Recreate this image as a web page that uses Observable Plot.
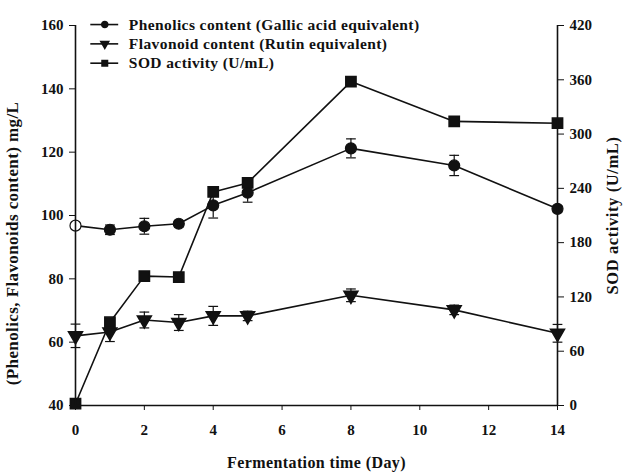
<!DOCTYPE html>
<html>
<head>
<meta charset="utf-8">
<script src="https://cdn.jsdelivr.net/npm/d3@7"></script>
<script src="https://cdn.jsdelivr.net/npm/@observablehq/plot@0.6"></script>
<style>
  html, body { margin: 0; padding: 0; background: #fff; }
  #chart svg { font-family: "Liberation Serif", "Times New Roman", serif; font-weight: bold; }
  #chart svg [aria-label="x-axis label"] text { letter-spacing: 0.4px; }
  #chart svg [aria-label="y-axis label"] text { letter-spacing: 0.6px; }
  #chart svg .legend-text text, #chart svg .ylabel text { letter-spacing: 0.4px; }
</style>
</head>
<body>
<div id="chart"></div>
<script>
// ---- data ----
const days = [0, 1, 2, 3, 4, 5, 8, 11, 14];
const phenolics = [96.8, 95.5, 96.6, 97.4, 103.2, 107.2, 121.2, 115.8, 102.1];
const phenolicsErr = [1.0, 1.5, 2.5, 1.0, 4.0, 3.0, 3.0, 3.2, 1.0];
const flavonoid = [62.0, 63.2, 67.0, 66.2, 68.3, 68.3, 74.8, 70.2, 62.8];
const flavonoidErr = [3.7, 3.0, 2.5, 2.5, 3.0, 1.5, 2.0, 1.5, 2.8];
const sod = [2, 92, 143, 142, 236, 246, 358, 314, 312];
const sodErr = [0, 2, 2, 3, 2, 3, 3, 2, 2];
const xTicks = [0, 2, 4, 6, 8, 10, 12, 14];
const leftTicks = [40, 60, 80, 100, 120, 140, 160];
const rightTicks = [0, 60, 120, 180, 240, 300, 360, 420];
const seriesNames = ["Phenolics content (Gallic acid equivalent)", "Flavonoid content (Rutin equivalent)", "SOD activity (U/mL)"];
const leftTitle = "(Phenolics, Flavonoids content) mg/L";

// map right-axis (SOD) values onto the left scale
const L0 = 40, L1 = 160, R0 = 0, R1 = 420;
const toLeft = v => L0 + (v - R0) * (L1 - L0) / (R1 - R0);

const rows = [];
days.forEach((d, i) => {
  rows.push({s: 0, x: d, y: phenolics[i], lo: phenolics[i] - phenolicsErr[i], hi: phenolics[i] + phenolicsErr[i], open: i === 0});
  rows.push({s: 1, x: d, y: flavonoid[i], lo: flavonoid[i] - flavonoidErr[i], hi: flavonoid[i] + flavonoidErr[i], open: false});
  rows.push({s: 2, x: d, y: toLeft(sod[i]), lo: toLeft(sod[i] - sodErr[i]), hi: toLeft(sod[i] + sodErr[i]), open: false});
});

const cap = { draw(ctx, size) { const r = Math.sqrt(size) / 2; ctx.moveTo(-r, 0); ctx.lineTo(r, 0); } };
const capRows = rows.flatMap(r => [{x: r.x, y: r.lo}, {x: r.x, y: r.hi}]);

const chart = Plot.plot({
  width: 627,
  height: 474,
  marginLeft: 75,
  marginRight: 70,
  marginTop: 25,
  marginBottom: 69,
  style: {fontFamily: "Liberation Serif, Times New Roman, serif", fontSize: "15px", fontWeight: "bold", color: "#111"},
  x: {domain: [0, 14]},
  y: {domain: [L0, L1]},
  marks: [
    // error bars
    Plot.ruleX(rows, {x: "x", y1: "lo", y2: "hi", stroke: "#111", strokeWidth: 1.2}),
    Plot.dot(capRows, {x: "x", y: "y", symbol: cap, r: 5.5, stroke: "#111", strokeWidth: 1.2}),
    // lines
    Plot.line(rows, {x: "x", y: "y", z: "s", stroke: "#111", strokeWidth: 1.6}),
    // markers
    Plot.dot(rows.filter(r => r.s === 0), {x: "x", y: "y", r: 5.5, symbol: "circle", fill: d => d.open ? "#fff" : "#111", stroke: "#111", strokeWidth: 1.2}),
    Plot.dot(rows.filter(r => r.s === 1), {x: "x", y: "y", r: 5.2, symbol: "triangle", rotate: 180, fill: "#111", stroke: "#111"}),
    Plot.dot(rows.filter(r => r.s === 2), {x: "x", y: "y", r: 5.8, symbol: "square", fill: "#111", stroke: "#111"}),
    // axes
    Plot.ruleY([L0], {stroke: "#111", strokeWidth: 1.6}),
    Plot.ruleX([0], {stroke: "#111", strokeWidth: 1.6}),
    Plot.ruleX([14], {stroke: "#111", strokeWidth: 1.6}),
    Plot.axisX({ticks: xTicks, tickSize: 5, tickPadding: 14, label: null, fontSize: 15}),
    Plot.axisX({ticks: [], label: "Fermentation time (Day)", labelAnchor: "center", labelOffset: 62, labelArrow: "none", fontSize: 16}),
    Plot.axisY({anchor: "left", ticks: leftTicks, tickSize: 6, tickPadding: 6, label: null, fontSize: 15}),
    Plot.text([leftTitle], {frameAnchor: "left", textAnchor: "middle", text: d => d, rotate: -90, dx: -63, dy: 28, fontSize: 17, fontWeight: "bold", fill: "#111", clip: false, className: "ylabel"}),
    Plot.axisY({anchor: "right", ticks: rightTicks.map(toLeft), tickFormat: (d, i) => String(rightTicks[i]), tickSize: 6, tickPadding: 6, label: null, fontSize: 15}),
    Plot.axisY({anchor: "right", ticks: [], label: "SOD activity (U/mL)", labelAnchor: "center", labelOffset: 60, labelArrow: "none", labelRotate: -90, fontSize: 16.5}),
    // legend
    Plot.link(seriesNames, {x1: 0.43, x2: 1.24, y1: (d, i) => 160.3 - i * 6.1, y2: (d, i) => 160.3 - i * 6.1, stroke: "#111", strokeWidth: 1.6, clip: false}),
    Plot.dot(seriesNames, {x: 0.85, y: (d, i) => 160.3 - i * 6.1, r: (d, i) => [5.5, 5.2, 5.8][i], symbol: (d, i) => ["circle", "triangle", "square"][i], rotate: (d, i) => i === 1 ? 180 : 0, fill: "#111", stroke: "#111", clip: false}),
    Plot.text(seriesNames, {x: 1.55, y: (d, i) => 160.3 - i * 6.1, text: d => d, textAnchor: "start", fontSize: 15.5, fontWeight: "bold", fill: "#111", clip: false, className: "legend-text"})
  ]
});
document.getElementById("chart").appendChild(chart);
</script>
</body>
</html>
